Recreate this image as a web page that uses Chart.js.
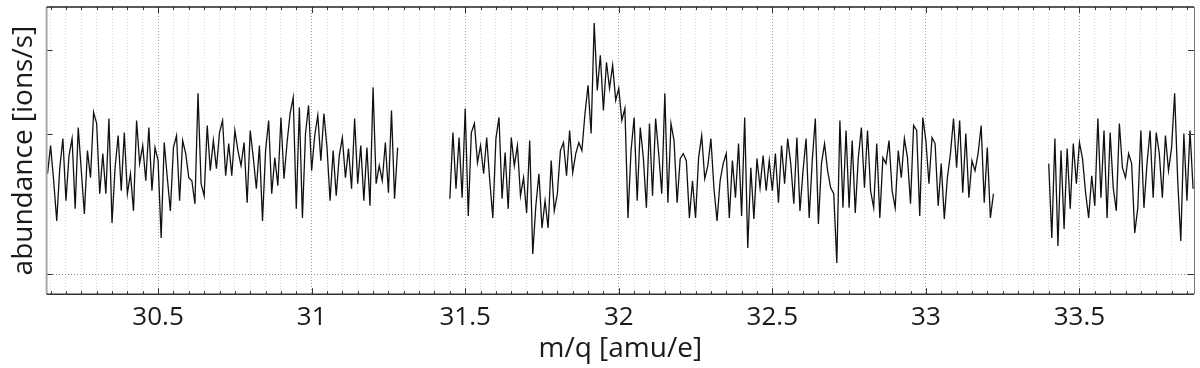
<!DOCTYPE html>
<html>
<head>
<meta charset="utf-8">
<script src="https://cdn.jsdelivr.net/npm/chart.js@4.4.1/dist/chart.umd.min.js"></script>
<style>
  html, body { margin: 0; padding: 0; background: #fff; }
</style>
</head>
<body>
<canvas id="massChart" width="1200" height="368"></canvas>
<script>
// sampling of the spectrum, amu/e
const step = 0.01;

// segment 1: 30.14 .. 31.28
const seg1Start = 30.14;
const seg1 = [
  100, 128, 93, 53, 106, 135, 73, 118, 135, 65, 146, 103, 60, 123, 96, 161, 150, 80, 120, 80,
  155, 51, 106, 138, 83, 141, 80, 100, 63, 153, 110, 128, 93, 146, 83, 126, 113, 36, 131, 96,
  63, 126, 138, 73, 133, 120, 96, 93, 70, 180, 90, 78, 148, 103, 133, 105, 141, 153, 98, 130,
  98, 143, 123, 108, 131, 71, 143, 116, 85, 128, 53, 123, 153, 80, 116, 88, 156, 95, 131, 160,
  176, 65, 166, 56, 140, 168, 103, 138, 158, 113, 160, 126, 73, 123, 78, 118, 136, 96, 125, 85,
  155, 90, 128, 73, 126, 68, 186, 90, 108, 93, 131, 81, 163, 75, 126
];

// segment 2: 31.45 .. 33.22 (peak near 31.93)
const seg2Start = 31.45;
const seg2 = [
  75, 141, 85, 136, 76, 165, 58, 141, 150, 111, 128, 100, 136, 93, 56, 135, 156, 75, 121, 65,
  136, 108, 128, 78, 96, 61, 133, 20, 68, 100, 46, 73, 46, 113, 63, 80, 123, 131, 98, 143,
  101, 120, 131, 123, 160, 188, 140, 250, 183, 218, 163, 211, 185, 208, 173, 185, 153, 165, 56, 123,
  156, 73, 146, 116, 66, 150, 78, 155, 120, 80, 180, 71, 150, 133, 71, 115, 120, 113, 56, 93,
  56, 116, 138, 95, 108, 135, 85, 53, 93, 110, 120, 56, 113, 76, 130, 58, 156, 26, 106, 55,
  115, 86, 118, 83, 113, 83, 120, 71, 128, 90, 135, 110, 70, 136, 63, 103, 135, 56, 113, 155,
  50, 110, 130, 103, 86, 80, 11, 153, 66, 143, 66, 133, 61, 116, 146, 86, 143, 83, 66, 130,
  56, 116, 110, 133, 83, 66, 123, 96, 135, 116, 70, 148, 143, 58, 156, 133, 90, 136, 130, 68,
  110, 55, 96, 120, 155, 106, 153, 81, 140, 76, 113, 103, 120, 148, 71, 126, 56, 80
];

// segment 3: 33.40 .. 33.87
const seg3Start = 33.40;
const seg3 = [
  110, 36, 135, 28, 123, 45, 125, 65, 130, 90, 131, 115, 81, 56, 98, 68, 155, 76, 143, 56,
  141, 86, 63, 150, 106, 96, 120, 110, 41, 66, 143, 66, 110, 143, 76, 141, 120, 76, 138, 103,
  126, 180, 93, 33, 140, 73, 143, 85
];

// axes
const xMin = 30.137;
const xMax = 33.873;
const xMinorStep = 0.05;
const xLabels = [30.5, 31, 31.5, 32, 32.5, 33, 33.5];
const yMin = -20;
const yMax = 266;
const yTicks = [0, 140, 223];

const segments = [[seg1Start, seg1], [seg2Start, seg2], [seg3Start, seg3]];
const points = [];
segments.forEach(([start, vals], s) => {
  vals.forEach((v, i) => points.push({ x: Number((start + i * step).toFixed(3)), y: v }));
  if (s < segments.length - 1) {
    points.push({ x: Number((start + vals.length * step).toFixed(3)), y: null });
  }
});

const isMajor = v => xLabels.some(l => Math.abs(l - v) < 1e-6);

// box frame with inward ticks on all four sides
const framePlugin = {
  id: 'frame',
  afterDatasetsDraw(chart) {
    const { ctx, chartArea: a, scales: { x, y } } = chart;
    ctx.save();
    ctx.lineWidth = 1;
    ctx.strokeStyle = '#333';
    x.ticks.forEach(t => {
      const px = Math.round(x.getPixelForValue(t.value)) + 0.5;
      const len = isMajor(t.value) ? 6 : 3;
      ctx.beginPath();
      ctx.moveTo(px, a.bottom); ctx.lineTo(px, a.bottom - len);
      ctx.moveTo(px, a.top); ctx.lineTo(px, a.top + len);
      ctx.stroke();
    });
    yTicks.forEach(v => {
      const py = Math.round(y.getPixelForValue(v)) + 0.5;
      ctx.beginPath();
      ctx.moveTo(a.left, py); ctx.lineTo(a.left + 6, py);
      ctx.moveTo(a.right, py); ctx.lineTo(a.right - 6, py);
      ctx.stroke();
    });
    // frame
    ctx.lineWidth = 2;
    ctx.strokeStyle = '#a8a8a8';
    ctx.beginPath(); ctx.moveTo(a.left, a.top); ctx.lineTo(a.left, a.bottom); ctx.stroke();
    ctx.lineWidth = 1;
    ctx.strokeStyle = '#777';
    ctx.beginPath(); ctx.moveTo(a.right + 0.5, a.top); ctx.lineTo(a.right + 0.5, a.bottom); ctx.stroke();
    ctx.lineWidth = 1.5;
    ctx.strokeStyle = '#222';
    ctx.beginPath(); ctx.moveTo(a.left, a.top); ctx.lineTo(a.right, a.top); ctx.stroke();
    ctx.strokeStyle = '#333';
    ctx.beginPath(); ctx.moveTo(a.left, a.bottom); ctx.lineTo(a.right, a.bottom); ctx.stroke();
    ctx.restore();
  }
};

Chart.defaults.font.family = '"Open Sans", "Noto Sans", sans-serif';
Chart.defaults.color = '#1a1a1a';

const ctx = document.getElementById('massChart').getContext('2d');
new Chart(ctx, {
  type: 'line',
  data: {
    datasets: [{
      data: points,
      borderColor: '#111',
      borderWidth: 1.3,
      pointRadius: 0,
      tension: 0,
      spanGaps: false
    }]
  },
  options: {
    responsive: false,
    animation: false,
    layout: { padding: { top: 7, right: 6, bottom: 0, left: 0 } },
    plugins: { legend: { display: false }, tooltip: { enabled: false } },
    scales: {
      x: {
        type: 'linear',
        min: xMin,
        max: xMax,
        afterBuildTicks: scale => {
          const ticks = [];
          for (let v = 30.15; v <= xMax + 1e-9; v += xMinorStep) {
            ticks.push({ value: Number(v.toFixed(2)) });
          }
          scale.ticks = ticks;
        },
        ticks: {
          autoSkip: false,
          maxRotation: 0,
          padding: 8,
          font: { size: 26 },
          callback: value => (isMajor(value) ? String(value) : '')
        },
        grid: {
          drawTicks: false,
          lineWidth: 1,
          color: c => (c.tick && isMajor(c.tick.value) ? '#a0a0a0' : '#d8d8d8')
        },
        border: { display: false, dash: [1, 2] },
        title: {
          display: true,
          text: 'm/q [amu/e]',
          font: { size: 28 },
          padding: { top: -9, bottom: 2 }
        }
      },
      y: {
        type: 'linear',
        min: yMin,
        max: yMax,
        afterBuildTicks: scale => {
          scale.ticks = yTicks.map(v => ({ value: v }));
        },
        ticks: { display: false },
        grid: {
          drawTicks: false,
          color: c => (c.tick && c.tick.value === 0 ? '#8a8a8a' : 'rgba(0,0,0,0)')
        },
        border: { display: false, dash: [1, 2] },
        title: {
          display: true,
          text: 'abundance [ions/s]',
          font: { size: 28 },
          padding: { top: 7, bottom: 6 }
        }
      }
    }
  },
  plugins: [framePlugin]
});
</script>
</body>
</html>
